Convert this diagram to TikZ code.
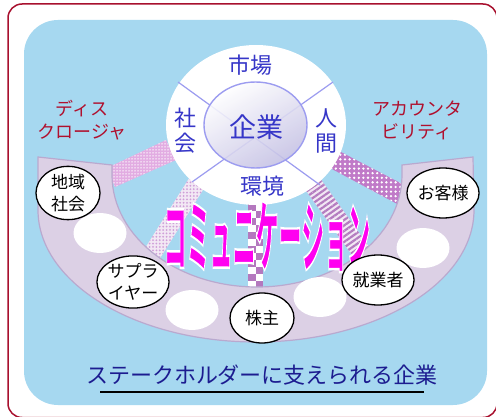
\documentclass[tikz,border=0pt]{standalone}
\usepackage{fontspec}
\setmainfont{Noto Sans CJK JP}
\usetikzlibrary{shapes.geometric,patterns.meta}
\definecolor{framered}{HTML}{A8102E}
\definecolor{sky}{HTML}{A6D8F0}
\definecolor{band}{HTML}{DCD0E5}
\definecolor{bandedge}{HTML}{B9A9CF}
\definecolor{kanblue}{HTML}{3636C8}
\definecolor{labred}{HTML}{B0102E}
\definecolor{navy}{HTML}{1C1C90}
\definecolor{divline}{HTML}{9C9CF0}
\definecolor{magent}{HTML}{FF00F0}
\definecolor{pinkA}{HTML}{E2ACE2}
\definecolor{purpB}{HTML}{C07AC8}
\definecolor{lightC}{HTML}{F2E8F4}
\definecolor{dotC}{HTML}{CF9ED8}
\definecolor{checkP}{HTML}{B478BE}
\definecolor{stripeP}{HTML}{B47CC0}
\definecolor{corpshade}{HTML}{C4C0E4}
\newcommand\commtext{\scalebox{1}[3.4]{\bfseries\special{pdf:literal direct 1 1 1 RG 0.7 w 2 Tr}コミュニケーション\special{pdf:literal direct 0 Tr}}}
\begin{document}
\begin{tikzpicture}[x=1pt,y=-1pt,
  lbl/.style={ellipse, draw=black, line width=1.3pt, fill=white, minimum width=64pt, minimum height=50pt, inner sep=0pt, font=\fontsize{17}{22}\selectfont, align=center},
  blank/.style={ellipse, fill=white, minimum width=53pt, minimum height=40pt, inner sep=0pt},
  kan/.style={text=kanblue, font=\fontsize{22}{25}\selectfont, align=center, inner sep=0pt},
  redlab/.style={text=labred, font=\fontsize{18}{23}\selectfont, align=center, inner sep=0pt},
  divider/.style={draw=divline, line width=1.2pt}]
\useasboundingbox (0,0) rectangle (496,417);
\draw[framered, line width=1.5pt, fill=white, rounded corners=14pt] (8,4) rectangle (497,417.5);
\fill[sky, rounded corners=34pt] (24,20) rectangle (487,405);

% strips
\fill[pinkA] (176,160) -- (166,140) -- (107,168) -- (115,187) -- cycle;
\path[pattern={Dots[distance=3pt,radius=0.75pt]}, pattern color=white] (176,160) -- (166,140) -- (107,168) -- (115,187) -- cycle;
\fill[purpB] (330,168) -- (339,151) -- (410,188) -- (401,206) -- cycle;
\path[pattern={Dots[distance=4.6pt,radius=1.3pt]}, pattern color=white] (330,168) -- (339,151) -- (410,188) -- (401,206) -- cycle;
\fill[lightC] (208,182) -- (193,172) -- (142,253) -- (157,263) -- cycle;
\path[pattern={Dots[distance=3.4pt,radius=1pt]}, pattern color=dotC] (208,182) -- (193,172) -- (142,253) -- (157,263) -- cycle;
\fill[lightC] (302,185) -- (317,174) -- (377,258) -- (362,269) -- cycle;
\path[pattern={Lines[angle=35,distance=4.5pt,line width=2.2pt]}, pattern color=stripeP] (302,185) -- (317,174) -- (377,258) -- (362,269) -- cycle;
\fill[white] (248,190) rectangle (263,292);
\foreach \i in {0,...,14}{
  \pgfmathsetmacro\yy{190+7*\i}
  \ifodd\i
    \fill[checkP] (255.5,\yy) rectangle (263,\yy+7);
  \else
    \fill[checkP] (248,\yy) rectangle (255.5,\yy+7);
  \fi
}

% band
\draw[fill=band, draw=bandedge, line width=1.2pt]
  (38,157) -- (38,210) .. controls (38,283) and (135.7,342) .. (256,342)
  .. controls (376.3,342) and (474,283) .. (474,210) -- (473,157) -- (402,165) -- (402,175)
  .. controls (402,236.8) and (337,287) .. (257,287)
  .. controls (177,287) and (112,236.8) .. (112,175) -- (112,165) -- cycle;

% central circle
\node[ellipse, fill=white, minimum width=180pt, minimum height=160pt, inner sep=0pt] (circ) at (256,125) {};
\coordinate (ul) at (178,82);
\coordinate (ur) at (333,82);
\coordinate (ll) at (192,182);
\coordinate (lr) at (320,185);
\draw[divider] (ul) -- (lr);
\draw[divider] (ur) -- (ll);
\node[ellipse, draw=divline, line width=1.4pt, inner sep=0pt, minimum width=103pt, minimum height=86pt, fill opacity=0.88, top color=white, bottom color=corpshade, shading angle=30] (corp) at (255.5,125) {};
\node[text=kanblue, font=\fontsize{27}{30}\selectfont, inner sep=0pt] at (256,127) {企業};
\node[kan] (mk) at (250,65) {市場};
\node[kan] (sk) at (185,131) {社\\会};
\node[kan] (nk) at (326,131) {人\\間};
\node[kan] (kk) at (262,186) {環境};

% red labels
\node[redlab] (disc) at (82,120) {ディス\\クロージャ};
\node[redlab] (acc) at (417,120) {アカウンタ\\ビリティ};

% communication text
\node[text=magent, font=\fontsize{23}{23}\selectfont, inner sep=0pt] (comm) at (267,236.5) {\commtext};

% blank ellipses
\node[blank] (b1) at (100,233) {};
\node[blank] (b2) at (192,310) {};
\node[blank] (b3) at (320,297) {};
\node[blank] (b4) at (423,248) {};

% stakeholders
\node[lbl] (chiiki) at (68,193) {地域\\社会};
\node[lbl] (sup) at (133,282) {サプラ\\イヤー};
\node[lbl] (kabu) at (262,318) {株主};
\node[lbl] (shu) at (378,280) {就業者};
\node[lbl] (kyaku) at (443,193) {お客様};

% title
\node[text=navy, font=\fontsize{22}{24}\selectfont, inner sep=0pt] (title) at (262,375) {ステークホルダーに支えられる企業};
\coordinate (t1) at (100,392);
\coordinate (t2) at (424,392);
\draw[black, line width=1.6pt] (t1) -- (t2);
\end{tikzpicture}
\end{document}
